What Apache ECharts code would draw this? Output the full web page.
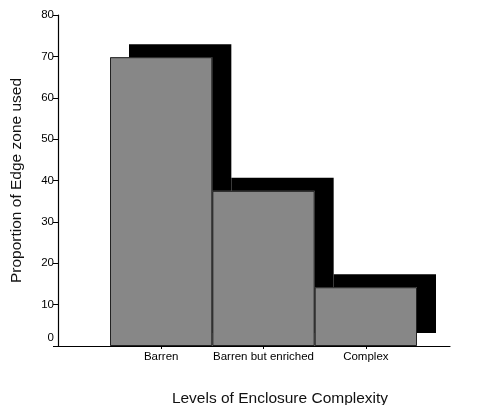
<!DOCTYPE html>
<html>
<head>
<meta charset="utf-8">
<script src="https://cdn.jsdelivr.net/npm/echarts@6/dist/echarts.min.js"></script>
<style>html,body{margin:0;padding:0;background:#fff;}#c{width:479px;height:405px;}</style>
</head>
<body>
<div id="c"></div>
<script>
const categories = ['Barren', 'Barren but enriched', 'Complex'];
const values = [69.8, 37.5, 14.2];
const yTicks = [0, 80, 10]; // min, max, interval
const yTitle = 'Proportion of Edge zone used';
const xTitle = 'Levels of Enclosure Complexity';

const font = '"Liberation Sans Narrow", "Liberation Sans", Arial, sans-serif';
const chart = echarts.init(document.getElementById('c'));
chart.setOption({
  animation: false,
  backgroundColor: '#fff',
  title: {
    text: xTitle, left: 275, top: 386, textAlign: 'center',
    textStyle: {fontFamily: '"Liberation Sans", Arial, sans-serif', fontSize: 15.5, fontWeight: 'normal', color: '#111'}
  },
  grid: [
    {left: 110, right: 62, top: 15, bottom: 59},
    {left: 58, right: 29, top: 15, bottom: 59}
  ],
  xAxis: [
    {
      type: 'category', gridIndex: 0, data: categories,
      axisLine: {show: false},
      axisTick: {show: true, alignWithLabel: true, length: 3, lineStyle: {color: '#000'}},
      axisLabel: {fontFamily: font, fontSize: 11.5, color: '#000', margin: 5, interval: 0},
      z: 5
    },
    {
      type: 'value', gridIndex: 1, min: 0, max: 1,
      axisLine: {show: true, onZero: false, lineStyle: {color: '#000', width: 1.2}},
      axisTick: {show: false}, axisLabel: {show: false}, splitLine: {show: false}
    }
  ],
  yAxis: [
    {
      type: 'value', gridIndex: 0, min: yTicks[0], max: yTicks[1], interval: yTicks[2],
      show: false
    },
    {
      type: 'value', gridIndex: 1, min: yTicks[0], max: yTicks[1], interval: yTicks[2],
      name: yTitle, nameLocation: 'middle', nameGap: 33,
      nameTextStyle: {fontFamily: '"Liberation Sans", Arial, sans-serif', fontSize: 15.5, color: '#111'},
      axisLine: {show: true, onZero: false, lineStyle: {color: '#000', width: 1.2}},
      axisTick: {show: true, length: 5, lineStyle: {color: '#000'}},
      axisLabel: {
        fontFamily: font, fontSize: 11.5, color: '#000', margin: 4,
        formatter: v => v === 0 ? '{z|0}' : String(v),
        rich: {z: {fontFamily: font, fontSize: 11.5, color: '#000', padding: [0, 0, 16, 0]}}
      },
      splitLine: {show: false}
    }
  ],
  series: [
    {
      type: 'bar', xAxisIndex: 0, yAxisIndex: 0,
      data: values,
      barWidth: '100%', barCategoryGap: 0, barGap: '-100%',
      itemStyle: {
        color: '#878787', borderWidth: 0,
        shadowColor: '#000', shadowBlur: 0, shadowOffsetX: 19, shadowOffsetY: -13
      },
      emphasis: {disabled: true}
    },
    {
      type: 'bar', xAxisIndex: 0, yAxisIndex: 0,
      data: values,
      barWidth: '100%', barCategoryGap: 0, barGap: '-100%',
      itemStyle: {color: 'rgba(0,0,0,0)', borderColor: '#222', borderWidth: 1},
      emphasis: {disabled: true}
    }
  ]
});
</script>
</body>
</html>
